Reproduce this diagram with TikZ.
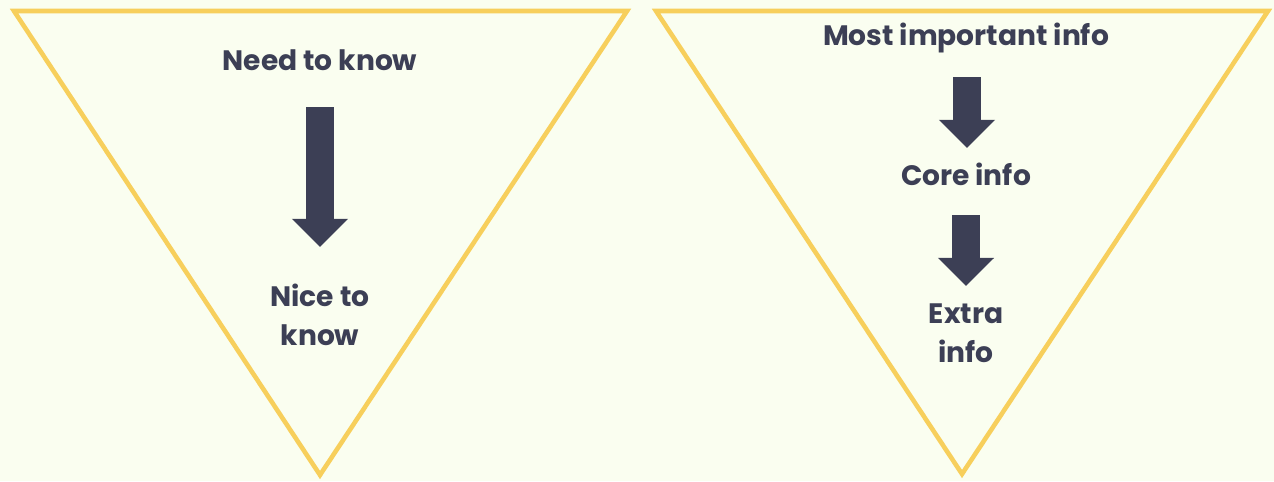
\documentclass[tikz,border=0pt]{standalone}
\usepackage{fontspec}
\setmainfont{Poppins}
\usetikzlibrary{arrows.meta}
\definecolor{bgcream}{RGB}{250,254,240}
\definecolor{funnelgold}{RGB}{247,207,92}
\definecolor{inkblue}{RGB}{60,63,85}

\begin{document}
\begin{tikzpicture}[x=0.02cm,y=-0.02cm,funnel/.style={draw=funnelgold,line width=2.6pt,line join=miter},lbl/.style={font=\bfseries\fontsize{16}{22}\selectfont,text=inkblue,align=center,inner sep=0pt},blockarrow/.style={draw=inkblue,line width=15.5pt,-{Triangle[width=31pt,length=16pt,fill=inkblue]}}]
\fill[bgcream] (0,0) rectangle (1274,481);
\useasboundingbox (0,0) rectangle (1274,481);
% left funnel
\draw[funnel] (14,11)--(627,11)--(320,475)--cycle;
\node[lbl] (need) at (320,60) {Need to know};
\node[lbl] (nice) at (320,315) {Nice to\\know};
\coordinate (n1) at (320,107);
\coordinate (n2) at (320,247);
\draw[blockarrow] (n1)--(n2);
% right funnel
\draw[funnel] (656,11)--(1268,11)--(962,474)--cycle;
\node[lbl] (most) at (966,38) {Most important info};
\node[lbl] (core) at (966,174) {Core info};
\node[lbl] (extra) at (966,333) {Extra\\info};
\coordinate (m1) at (967,77);
\coordinate (m2) at (967,148);
\coordinate (c1) at (966,215);
\coordinate (c2) at (966,286);
\draw[blockarrow] (m1)--(m2);
\draw[blockarrow] (c1)--(c2);
\end{tikzpicture}
\end{document}
